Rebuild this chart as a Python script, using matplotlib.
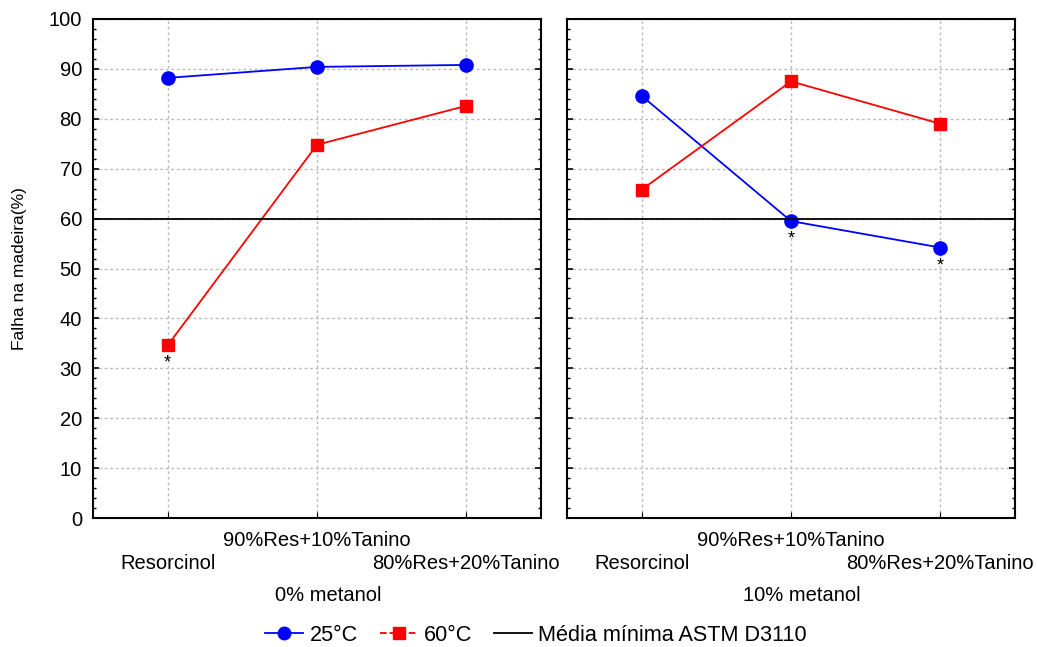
import matplotlib
matplotlib.use("Agg")
import matplotlib.pyplot as plt
from matplotlib.ticker import MultipleLocator
from matplotlib.lines import Line2D

plt.rcParams['font.family'] = ['Liberation Sans', 'DejaVu Sans']
plt.rcParams['font.size'] = 14.5

# data
categories = ['Resorcinol', '90%Res+10%Tanino', '80%Res+20%Tanino']
groups = ['0% metanol', '10% metanol']
temp25 = [[88.2, 90.4, 90.8], [84.6, 59.5, 54.2]]
temp60 = [[34.6, 74.8, 82.6], [65.8, 87.5, 79.0]]
astm_min = 60
# (group, series, category) points flagged with *
flagged = [(0, '60', 0), (1, '25', 1), (1, '25', 2)]


def main():
    fig = plt.figure(figsize=(10.37, 6.47), dpi=100)
    lefts = [93 / 1037, 567 / 1037]
    w = 448 / 1037
    bottom = 1 - 518 / 647
    h = 499 / 647
    xs = [0.5, 1.5, 2.5]

    for g in range(2):
        ax = fig.add_axes([lefts[g], bottom, w, h])
        ax.plot(xs, temp25[g], color='blue', marker='o', markersize=9.5, lw=1.3)
        ax.plot(xs, temp60[g], color='red', marker='s', markersize=8.5, lw=1.3)
        ax.axhline(astm_min, color='black', lw=1.3)
        ax.set_xlim(0, 3)
        ax.set_ylim(0, 100)
        ax.set_xticks(xs)
        ax.set_xticklabels(categories)
        ax.yaxis.set_major_locator(MultipleLocator(10))
        ax.yaxis.set_minor_locator(MultipleLocator(2))
        ax.tick_params(axis='y', which='both', direction='in', left=True, right=True)
        ax.tick_params(axis='y', which='major', length=4, width=1.2, pad=8)
        ax.tick_params(axis='y', which='minor', length=2.5, width=1)
        ax.tick_params(axis='x', direction='in', length=4)
        # staggered category labels
        for i, tick in enumerate(ax.xaxis.get_major_ticks()):
            tick.set_pad(9 if i == 1 else 26)
        if g == 1:
            ax.set_yticklabels([])
        else:
            ax.set_ylabel('Falha na madeira(%)', fontsize=12.5)
            ax.yaxis.set_label_coords(-0.147, 0.5)
        for s in ax.spines.values():
            s.set_linewidth(1.5)
        ax.grid(True, color='#bbbbbb', linestyle=(0, (2, 2)), lw=1)
        ax.text(0.5 + 0.025, -0.155, groups[g], transform=ax.transAxes,
                ha='center', va='center')
        for fg, ser, c in flagged:
            if fg == g:
                val = temp60[g][c] if ser == '60' else temp25[g][c]
                ax.annotate('*', (xs[c], val), xytext=(0, -13),
                            textcoords='offset points', ha='center',
                            va='center', fontsize=13)

    handles = [
        Line2D([], [], color='blue', marker='o', markersize=9, lw=1.3),
        Line2D([], [], color='red', marker='s', markersize=8, lw=1.3, ls='--'),
        Line2D([], [], color='black', lw=1.3),
    ]
    fig.legend(handles, ['25°C', '60°C', 'Média mínima ASTM D3110'],
               loc='center', bbox_to_anchor=(0.517, 0.018), ncol=3,
               frameon=False, handlelength=1.75, handletextpad=0.3,
               columnspacing=1.0, fontsize=15.6)
    fig.savefig('out.png', dpi=100)


if __name__ == "__main__":
    main()
